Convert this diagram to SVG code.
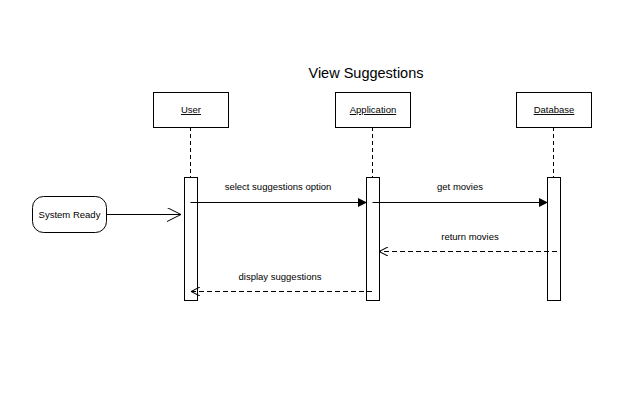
<svg xmlns="http://www.w3.org/2000/svg" width="625" height="412" viewBox="0 0 625 412">
<defs>
<style>
text{font-family:"Liberation Sans",Arial,sans-serif;fill:#000}
.lbl{font-size:9.5px;text-anchor:middle}
.obj{font-size:9.5px;text-anchor:middle;text-decoration:underline}
.box{fill:#fff;stroke:#000;stroke-width:1}
.life{stroke:#000;stroke-width:1;stroke-dasharray:4 3;fill:none}
.msg{stroke:#000;stroke-width:1;fill:none}
.ret{stroke:#000;stroke-width:1;fill:none;stroke-dasharray:5 3}
</style>
<marker id="filled" viewBox="0 0 10 10" refX="10" refY="5" markerWidth="9" markerHeight="9" markerUnits="userSpaceOnUse" orient="auto">
<path d="M0,0 L10,5 L0,10 z" fill="#000"/>
</marker>
<marker id="open" viewBox="0 0 10 10" refX="10" refY="5" markerWidth="9" markerHeight="9" markerUnits="userSpaceOnUse" orient="auto">
<path d="M0,0 L10,5 L0,10" fill="none" stroke="#000" stroke-width="1.2"/>
</marker>
<marker id="openBig" viewBox="0 0 14 14" refX="14" refY="7" markerWidth="14" markerHeight="14" markerUnits="userSpaceOnUse" orient="auto">
<path d="M0,0 L14,7 L0,14" fill="none" stroke="#000" stroke-width="1"/>
</marker>
</defs>
<rect width="625" height="412" fill="#fff"/>
<text x="366" y="78" font-size="14.5" text-anchor="middle">View Suggestions</text>

<g id="connectors">
<line class="life" x1="190.5" y1="127" x2="190.5" y2="177"/>
<line class="life" x1="372.5" y1="127" x2="372.5" y2="177"/>
<line class="life" x1="553.5" y1="127" x2="553.5" y2="177"/>
</g>

<g id="user">
<rect class="box" x="153.5" y="92.5" width="75" height="35"/>
<text class="obj" x="191" y="113">User</text>
<rect class="box" x="184.5" y="177.5" width="13" height="123"/>
</g>
<g id="application">
<rect class="box" x="335.5" y="92.5" width="75" height="35"/>
<text class="obj" x="373" y="113">Application</text>
<rect class="box" x="366.5" y="177.5" width="13" height="123"/>
</g>
<g id="database">
<rect class="box" x="516.5" y="92.5" width="75" height="35"/>
<text class="obj" x="554" y="113">Database</text>
<rect class="box" x="547.5" y="177.5" width="13" height="123"/>
</g>
<g id="system-ready">
<rect class="box" x="32.5" y="196.5" width="74" height="36" rx="11" ry="11"/>
<text class="lbl" x="69.5" y="218">System Ready</text>
</g>

<g id="messages">
<line class="msg" x1="106.5" y1="214.5" x2="181" y2="214.5" marker-end="url(#openBig)"/>
<line class="msg" x1="190.5" y1="202.5" x2="367" y2="202.5" marker-end="url(#filled)"/>
<text class="lbl" x="278" y="190">select suggestions option</text>
<line class="msg" x1="372.5" y1="202.5" x2="548" y2="202.5" marker-end="url(#filled)"/>
<text class="lbl" x="460" y="190">get movies</text>
<line class="ret" x1="557" y1="251.5" x2="379" y2="251.5" marker-end="url(#open)"/>
<text class="lbl" x="470" y="240">return movies</text>
<line class="ret" x1="372" y1="291.5" x2="191" y2="291.5" marker-end="url(#open)"/>
<text class="lbl" x="280" y="280">display suggestions</text>
</g>
</svg>
